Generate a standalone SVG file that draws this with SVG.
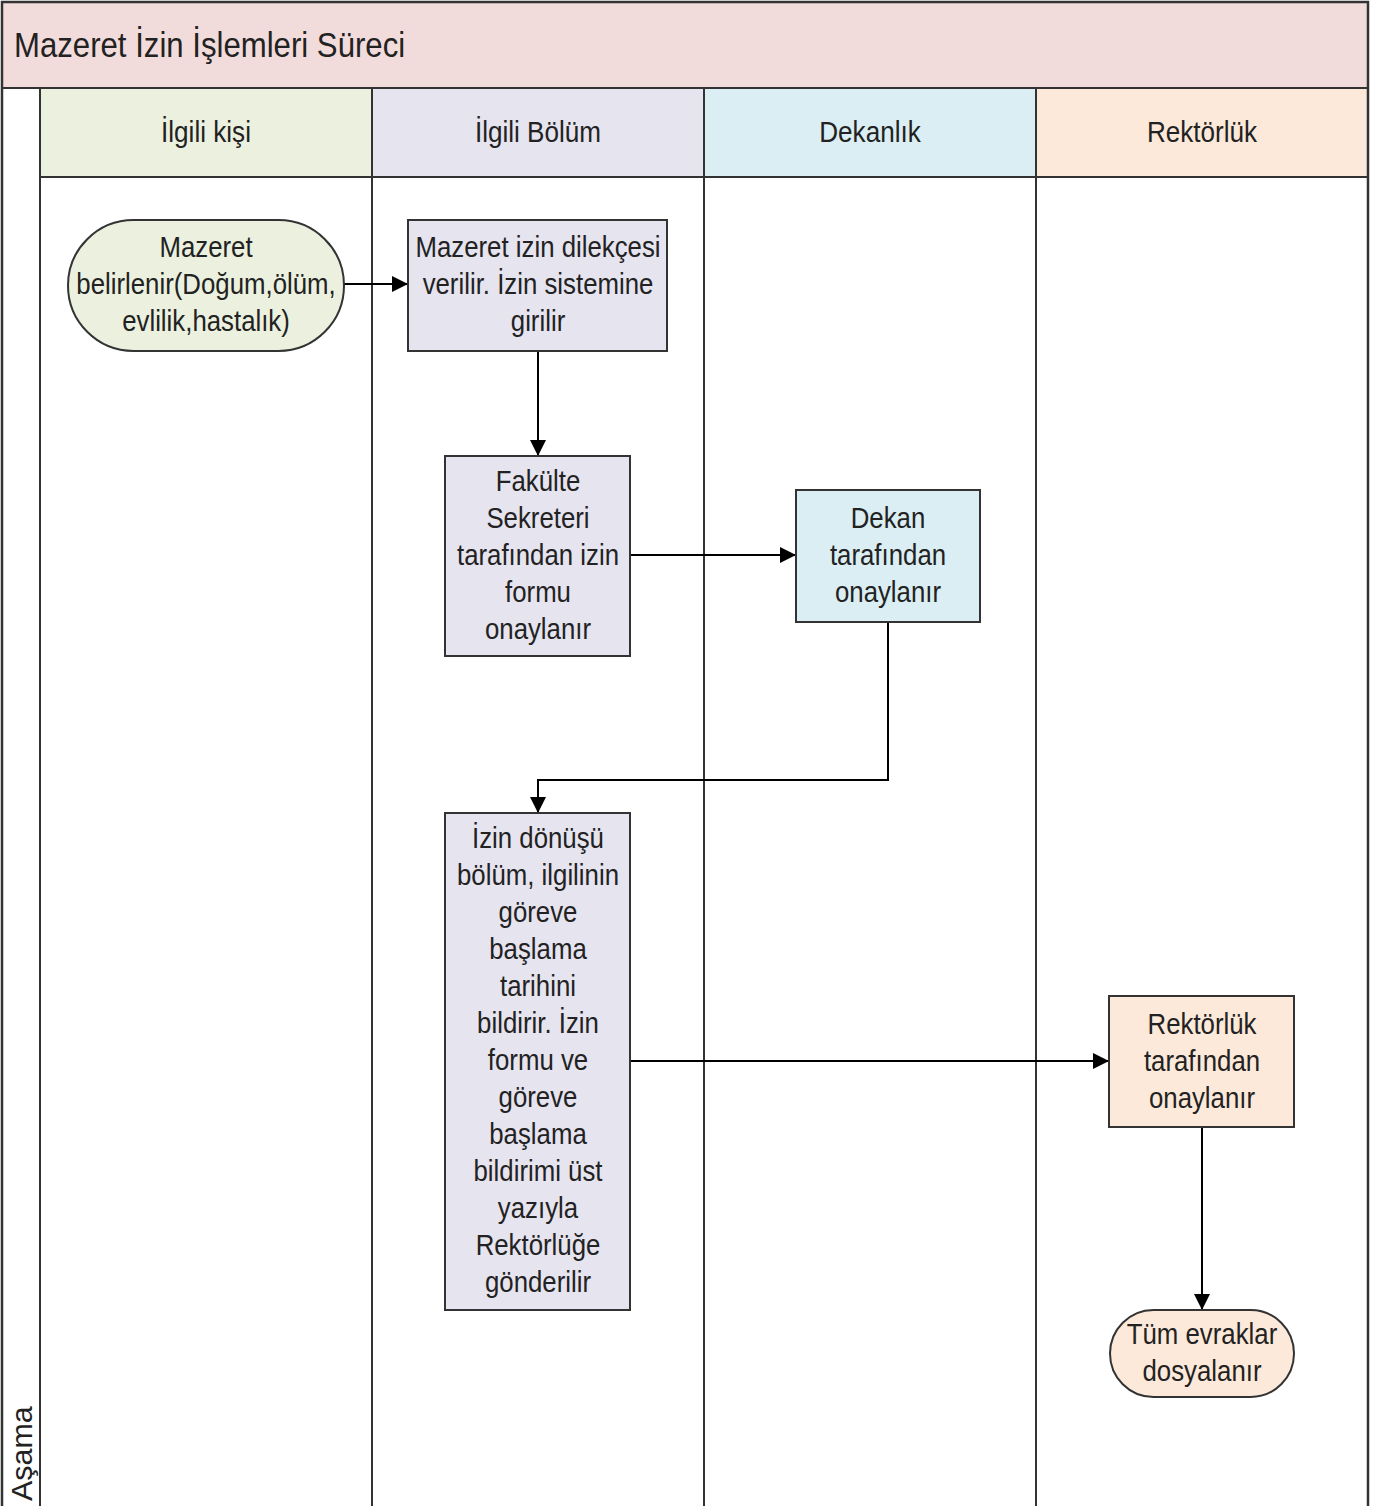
<svg xmlns="http://www.w3.org/2000/svg" width="1377" height="1506" viewBox="0 0 1377 1506">
  <defs>
    <marker id="arrow" viewBox="0 0 10 10" refX="10" refY="5" markerWidth="16" markerHeight="16" markerUnits="userSpaceOnUse" orient="auto">
      <path d="M0,0 L10,5 L0,10 z" fill="#000"/>
    </marker>
    <style>
      text { font-family: "Liberation Sans Narrow", "Arial Narrow", "Liberation Sans", Arial, sans-serif; fill: #222; }
      .title { font-size: 35px; }
      .hdr { font-size: 29px; text-anchor: middle; }
      .lbl { font-size: 30px; text-anchor: middle; }
      .frame { fill: none; stroke: #333; stroke-width: 2.5; }
      .lane { stroke: #333; stroke-width: 2; }
      .box { stroke: #333; stroke-width: 2; }
      .conn { fill: none; stroke: #000; stroke-width: 2; }
    </style>
  </defs>

  <!-- pool background -->
  <rect x="2" y="2" width="1366" height="1504" fill="#ffffff"/>
  <!-- title band -->
  <rect x="2" y="2" width="1366" height="86" fill="#f2dcdb"/>
  <text class="title" transform="translate(14 57) scale(0.89 1)">Mazeret İzin İşlemleri Süreci</text>

  <!-- lane headers -->
  <rect x="40" y="88" width="332" height="89" fill="#ebf1de"/>
  <rect x="372" y="88" width="332" height="89" fill="#e6e4ef"/>
  <rect x="704" y="88" width="332" height="89" fill="#daeef3"/>
  <rect x="1036" y="88" width="332" height="89" fill="#fde9d9"/>
  <text class="hdr" transform="translate(206 142) scale(0.9 1)">İlgili kişi</text>
  <text class="hdr" transform="translate(538 142) scale(0.9 1)">İlgili Bölüm</text>
  <text class="hdr" transform="translate(870 142) scale(0.9 1)">Dekanlık</text>
  <text class="hdr" transform="translate(1202 142) scale(0.9 1)">Rektörlük</text>

  <!-- lane lines -->
  <g id="lanes">
    <line class="lane" x1="2" y1="88" x2="1368" y2="88"/>
    <line class="lane" x1="40" y1="177" x2="1368" y2="177"/>
    <line class="lane" x1="40" y1="88" x2="40" y2="1506"/>
    <line class="lane" x1="372" y1="88" x2="372" y2="1506"/>
    <line class="lane" x1="704" y1="88" x2="704" y2="1506"/>
    <line class="lane" x1="1036" y1="88" x2="1036" y2="1506"/>
  </g>
  <rect class="frame" x="2" y="2" width="1366" height="1506"/>

  <!-- phase label -->
  <text transform="translate(32 1501) rotate(-90) scale(1.05 1)" style="font-size:29px">Aşama</text>

  <!-- connectors -->
  <g id="connectors">
    <path class="conn" d="M344,284 H408" marker-end="url(#arrow)"/>
    <path class="conn" d="M538,351 V456" marker-end="url(#arrow)"/>
    <path class="conn" d="M630,555 H796" marker-end="url(#arrow)"/>
    <path class="conn" d="M888,622 V780 H538 V813" marker-end="url(#arrow)"/>
    <path class="conn" d="M630,1061 H1109" marker-end="url(#arrow)"/>
    <path class="conn" d="M1202,1127 V1310" marker-end="url(#arrow)"/>
  </g>

  <!-- start: reason determined -->
  <g id="start">
    <rect class="box" x="68" y="220" width="276" height="131" rx="65.5" ry="65.5" fill="#ebf1de"/>
    <text class="lbl" transform="translate(206 257) scale(0.86 1)">Mazeret</text>
    <text class="lbl" transform="translate(206 294) scale(0.86 1)">belirlenir(Doğum,ölüm,</text>
    <text class="lbl" transform="translate(206 331) scale(0.86 1)">evlilik,hastalık)</text>
  </g>

  <!-- petition submitted -->
  <g id="petition">
    <rect class="box" x="408" y="220" width="259" height="131" fill="#e6e4ef"/>
    <text class="lbl" transform="translate(538 257) scale(0.86 1)">Mazeret izin dilekçesi</text>
    <text class="lbl" transform="translate(538 294) scale(0.86 1)">verilir. İzin sistemine</text>
    <text class="lbl" transform="translate(538 331) scale(0.86 1)">girilir</text>
  </g>

  <!-- faculty secretary approval -->
  <g id="secretary">
    <rect class="box" x="445" y="456" width="185" height="200" fill="#e6e4ef"/>
    <text class="lbl" transform="translate(538 491) scale(0.86 1)">Fakülte</text>
    <text class="lbl" transform="translate(538 528) scale(0.86 1)">Sekreteri</text>
    <text class="lbl" transform="translate(538 565) scale(0.86 1)">tarafından izin</text>
    <text class="lbl" transform="translate(538 602) scale(0.86 1)">formu</text>
    <text class="lbl" transform="translate(538 639) scale(0.86 1)">onaylanır</text>
  </g>

  <!-- dean approval -->
  <g id="dean">
    <rect class="box" x="796" y="490" width="184" height="132" fill="#daeef3"/>
    <text class="lbl" transform="translate(888 528) scale(0.86 1)">Dekan</text>
    <text class="lbl" transform="translate(888 565) scale(0.86 1)">tarafından</text>
    <text class="lbl" transform="translate(888 602) scale(0.86 1)">onaylanır</text>
  </g>

  <!-- return notification -->
  <g id="return">
    <rect class="box" x="445" y="813" width="185" height="497" fill="#e6e4ef"/>
    <text class="lbl" transform="translate(538 848) scale(0.86 1)">İzin dönüşü</text>
    <text class="lbl" transform="translate(538 885) scale(0.86 1)">bölüm, ilgilinin</text>
    <text class="lbl" transform="translate(538 922) scale(0.86 1)">göreve</text>
    <text class="lbl" transform="translate(538 959) scale(0.86 1)">başlama</text>
    <text class="lbl" transform="translate(538 996) scale(0.86 1)">tarihini</text>
    <text class="lbl" transform="translate(538 1033) scale(0.86 1)">bildirir. İzin</text>
    <text class="lbl" transform="translate(538 1070) scale(0.86 1)">formu ve</text>
    <text class="lbl" transform="translate(538 1107) scale(0.86 1)">göreve</text>
    <text class="lbl" transform="translate(538 1144) scale(0.86 1)">başlama</text>
    <text class="lbl" transform="translate(538 1181) scale(0.86 1)">bildirimi üst</text>
    <text class="lbl" transform="translate(538 1218) scale(0.86 1)">yazıyla</text>
    <text class="lbl" transform="translate(538 1255) scale(0.86 1)">Rektörlüğe</text>
    <text class="lbl" transform="translate(538 1292) scale(0.86 1)">gönderilir</text>
  </g>

  <!-- rectorate approval -->
  <g id="rectorate">
    <rect class="box" x="1109" y="996" width="185" height="131" fill="#fde9d9"/>
    <text class="lbl" transform="translate(1202 1034) scale(0.86 1)">Rektörlük</text>
    <text class="lbl" transform="translate(1202 1071) scale(0.86 1)">tarafından</text>
    <text class="lbl" transform="translate(1202 1108) scale(0.86 1)">onaylanır</text>
  </g>

  <!-- end: filed -->
  <g id="end">
    <rect class="box" x="1110" y="1310" width="184" height="87" rx="43.5" ry="43.5" fill="#fde9d9"/>
    <text class="lbl" transform="translate(1202 1344) scale(0.86 1)">Tüm evraklar</text>
    <text class="lbl" transform="translate(1202 1381) scale(0.86 1)">dosyalanır</text>
  </g>
</svg>
